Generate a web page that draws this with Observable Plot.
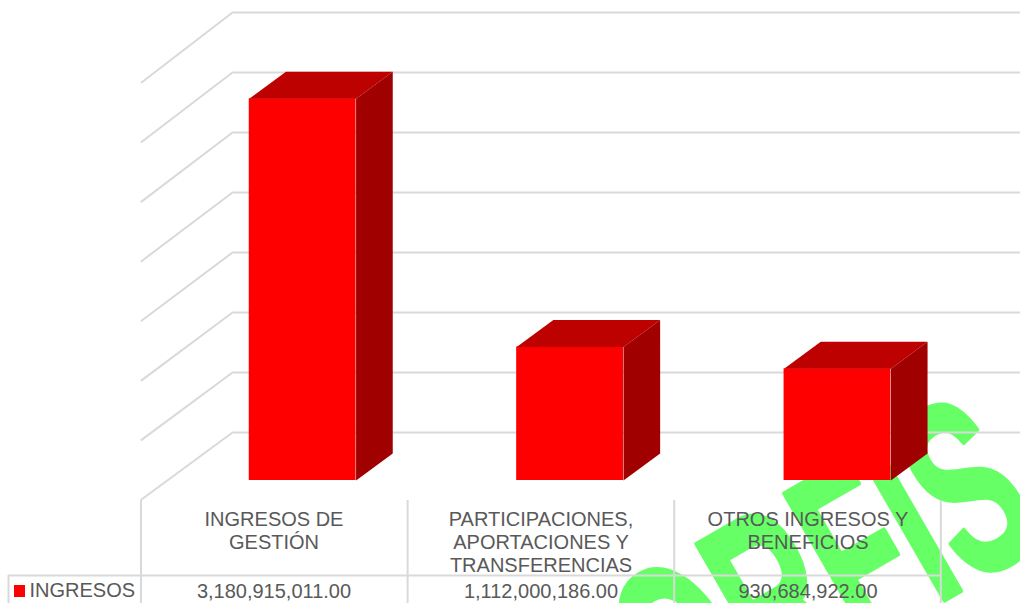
<!DOCTYPE html>
<html>
<head>
<meta charset="utf-8">
<style>html,body{margin:0;padding:0;background:#fff;overflow:hidden}</style>
<script src="https://cdn.jsdelivr.net/npm/d3@7"></script>
<script src="https://cdn.jsdelivr.net/npm/@observablehq/plot@0.6"></script>
</head>
<body>
<div id="chart"></div>
<script>
const categories = ["INGRESOS DE\nGESTIÓN", "PARTICIPACIONES,\nAPORTACIONES Y\nTRANSFERENCIAS", "OTROS INGRESOS Y\nBENEFICIOS"];
const values = [3180915011, 1112000186, 930684922];
const valueLabels = ["3,180,915,011.00", "1,112,000,186.00", "930,684,922.00"];
const seriesName = "INGRESOS";
const gridTicks = [0, 5e8, 1e9, 1.5e9, 2e9, 2.5e9, 3e9, 3.5e9];
const watermark = "ORFIS";

const W = 1020, H = 603;
const perCat = 267, perB = 120;
const X0 = 232, Y0 = 432;               // back wall origin on the page
const DX = 91 / perCat, DY = 67 / perB * 1e9; // full floor depth in scale units
// page position <-> scale units, for the table under the chart
const xp = p => (p - X0) / perCat;
const yp = p => (Y0 - p) / perB * 1e9;

const barLeft = 0.307, barW = 0.4, barStep = 1.0015;
const tableStep = 266.6 / perCat;
const depthFront = 48 / 67, depthBack = 21 / 67;

const rows = values.map((v, i) => ({i, v, c: i * barStep}));

const gridPts = gridTicks.flatMap(t => [
  {t, x: 0 - DX, y: t * 0.993 - DY},
  {t, x: 0, y: t},
  {t, x: 3, y: t}
]);

const frontFace = rows.map(({c, v}) => ({
  x1: c + barLeft - depthFront * DX,
  x2: c + barLeft + barW - depthFront * DX,
  y1: -depthFront * DY,
  y2: v - depthFront * DY
}));
const topFace = rows.flatMap(({i, c, v}) => [
  {i, x: c + barLeft - depthFront * DX, y: v - depthFront * DY},
  {i, x: c + barLeft + barW - depthFront * DX, y: v - depthFront * DY},
  {i, x: c + barLeft + barW - depthBack * DX, y: v - depthBack * DY},
  {i, x: c + barLeft - depthBack * DX, y: v - depthBack * DY}
]);
const sideFace = rows.flatMap(({i, c, v}) => [
  {i, x: c + barLeft + barW - depthFront * DX, y: v - depthFront * DY},
  {i, x: c + barLeft + barW - depthBack * DX, y: v - depthBack * DY},
  {i, x: c + barLeft + barW - depthBack * DX, y: -depthBack * DY},
  {i, x: c + barLeft + barW - depthFront * DX, y: -depthFront * DY}
]);

const tableX = [0, 1, 2, 3].map(c => c * tableStep - DX - 0.5 / perCat);
const ink = "#595959", gridC = "#d9d9d9";
const font = "Liberation Sans";

const chart = Plot.plot({
  width: W, height: H,
  margin: 0,
  x: {domain: [0, 3], range: [X0, X0 + 3 * perCat], axis: null},
  y: {domain: [0, 3.5e9], range: [Y0, Y0 - 3.5 * perB], axis: null},
  style: {fontFamily: font, background: "#fff"},
  marks: [
    Plot.text([watermark], {
      x: xp(824.5), y: yp(576), text: d => d,
      rotate: -30, fontSize: 250, fontWeight: "bold", fill: "#66ff66",
      stroke: "#66ff66", strokeWidth: 5,
      textAnchor: "middle", fontFamily: font, ariaLabel: "watermark"
    }),
    Plot.line(gridPts, {x: "x", y: "y", z: "t", stroke: gridC, strokeWidth: 2, curve: "linear"}),
    Plot.rect(frontFace, {x1: "x1", x2: "x2", y1: "y1", y2: "y2", fill: "#ff0000"}),
    Plot.line(topFace, {x: "x", y: "y", z: "i", fill: "#bd0000", stroke: "none", curve: "linear"}),
    Plot.line(sideFace, {x: "x", y: "y", z: "i", fill: "#a00000", stroke: "none", curve: "linear"}),
    // data table
    Plot.ruleX(tableX, {x: d => d, y1: yp(500), y2: yp(H), stroke: gridC, strokeWidth: 2}),
    Plot.ruleX([xp(8)], {x: d => d, y1: yp(575), y2: yp(H), stroke: gridC, strokeWidth: 2}),
    Plot.ruleY([yp(575)], {y: d => d, x1: xp(8), x2: tableX[3], stroke: gridC, strokeWidth: 2}),
    Plot.text(categories, {
      x: (d, i) => i + 0.5 - DX - 1 / perCat, y: yp(509), text: d => d,
      lineAnchor: "top", lineHeight: 1.15, fontSize: 20, fill: ink, textAnchor: "middle"
    }),
    Plot.text(valueLabels, {
      x: (d, i) => i + 0.5 - DX - 1 / perCat, y: yp(591), text: d => d,
      lineAnchor: "middle", fontSize: 20, fill: ink, textAnchor: "middle"
    }),
    Plot.rect([seriesName], {x1: xp(14), x2: xp(25), y1: yp(597), y2: yp(585), fill: "#ff0000"}),
    Plot.text([seriesName], {
      x: xp(29), y: yp(590), text: d => d,
      lineAnchor: "middle", fontSize: 20, fill: ink, textAnchor: "start"
    })
  ]
});
// the watermark's lettering is condensed
const wm = chart.querySelector("text");
wm.setAttribute("transform", (wm.getAttribute("transform") || "") + " scale(0.56,1)");
document.getElementById("chart").append(chart);
</script>
</body>
</html>
